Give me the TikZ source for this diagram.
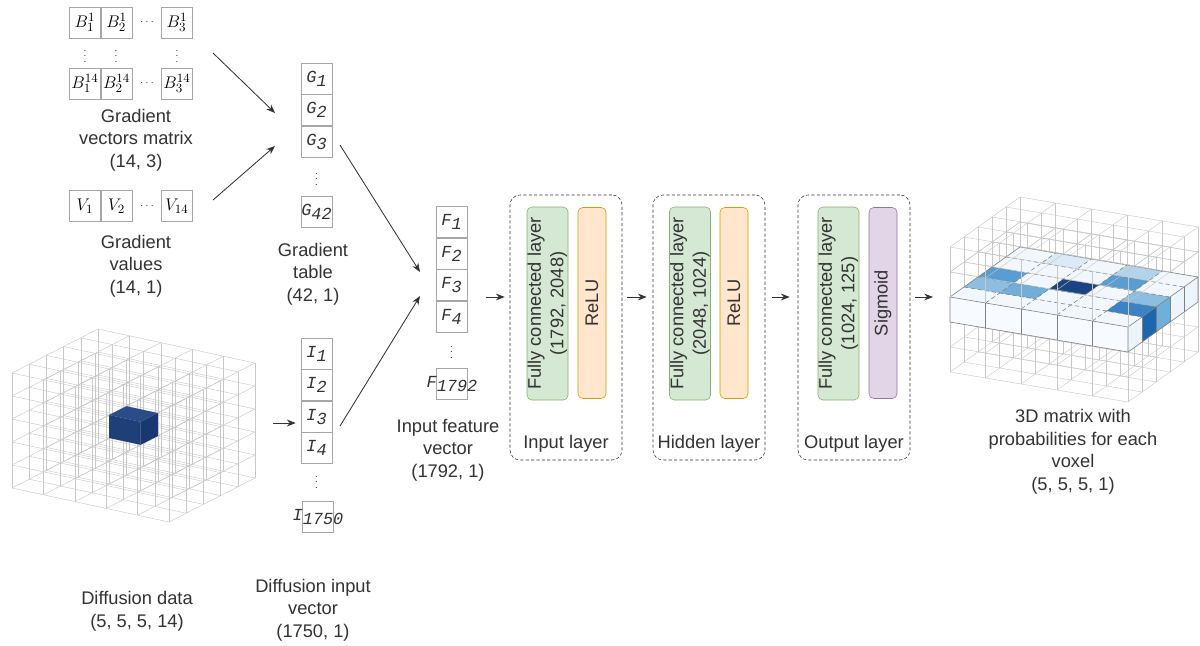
\documentclass[tikz,border=0pt]{standalone}
\usepackage{fontspec}
\setmainfont{Liberation Sans}
\setmonofont{Liberation Mono}
\usepackage{tikz}
\usetikzlibrary{arrows.meta,positioning,calc}
\definecolor{ink}{HTML}{333333}
\definecolor{cellgrey}{HTML}{A6A6A6}
\definecolor{fcfill}{HTML}{D5E8D4}
\definecolor{fcline}{HTML}{82B366}
\definecolor{relufill}{HTML}{FFE6CC}
\definecolor{reluline}{HTML}{D79B00}
\definecolor{sigfill}{HTML}{E1D5E7}
\definecolor{sigline}{HTML}{9673A6}
\definecolor{latgrey}{HTML}{C8C8C8}
\definecolor{edgegrey}{HTML}{7F7F7F}
\definecolor{navytop}{HTML}{2A4D8A}
\definecolor{navyfront}{HTML}{1F3F78}
\definecolor{navyside}{HTML}{1A3870}
\definecolor{slabtop}{HTML}{F2F7FD}
\definecolor{slabfront}{HTML}{F7FAFE}
\definecolor{slabside}{HTML}{EEF4FB}
\definecolor{blueA}{HTML}{DCE9F6}
\definecolor{blueB}{HTML}{B3D3EB}
\definecolor{blueC}{HTML}{8BBEE0}
\definecolor{blueD}{HTML}{6FAFD9}
\definecolor{blueE}{HTML}{5A9DD2}
\definecolor{blueF}{HTML}{3D83C4}
\definecolor{blueG}{HTML}{1C66AE}
\definecolor{blueH}{HTML}{1B4482}
\newcommand{\cellsym}[2]{{\ttfamily\itshape #1\raisebox{-.45ex}{#2}}}

\begin{document}
\begin{tikzpicture}[x=0.25mm,y=-0.25mm,
  font=\fontsize{13}{16}\selectfont,
  cell/.style={draw=cellgrey,minimum width=7.75mm,minimum height=7.75mm,inner sep=0pt,
               text=ink,font=\fontsize{12}{14}\selectfont},
  mcell/.style={cell,text=black,font=\fontsize{13}{15}\selectfont},
  dots/.style={inner sep=0pt,text=ink,font=\fontsize{7}{8}\selectfont},
  caption/.style={align=center,text=ink,inner sep=0pt},
  layerbox/.style={draw=ink,dash pattern=on 2.2pt off 1.6pt,rounded corners=2.5mm,
                   minimum width=28mm,minimum height=66.25mm},
  fcbox/.style={rotate=90,draw=fcline,fill=fcfill,rounded corners=1.2mm,minimum width=48.25mm,
                minimum height=10.25mm,inner sep=0pt,align=center,text=ink},
  actbox/.style={rotate=90,rounded corners=1.2mm,minimum width=47.75mm,minimum height=7mm,
                 inner sep=0pt,text=ink},
  arrow/.style={-{Stealth[length=2.2mm,width=1.7mm]},draw=ink,line width=0.6pt},
  gridline/.style={draw=latgrey,line width=0.3pt},
  voxedge/.style={draw=edgegrey,line width=0.4pt}
]
\useasboundingbox[fill=white] (0,0) rectangle (1200,645);

% gradient vectors matrix
\node[mcell] (b1a) at (85,22.5) {$B_1^1$};
\node[mcell,right=0pt of b1a] (b1b) {$B_2^1$};
\node[dots] (b1d) at (147,22.5) {$\cdots$};
\node[mcell] (b1c) at (177,22.5) {$B_3^1$};
\node[dots] (bva) at (85,52) {$\vdots$};
\node[dots] (bvb) at (116,52) {$\vdots$};
\node[dots] (bvc) at (177,52) {$\vdots$};
\node[mcell] (b14a) at (85,83.5) {$B_1^{14}$};
\node[mcell,right=0pt of b14a] (b14b) {$B_2^{14}$};
\node[dots] (b14d) at (147,83.5) {$\cdots$};
\node[mcell] (b14c) at (177,83.5) {$B_3^{14}$};
\node[caption] (bcap) at (136,140) {Gradient\\vectors matrix\\(14, 3)};

% gradient values
\node[mcell] (v1) at (85,206) {$V_1$};
\node[mcell,right=0pt of v1] (v2) {$V_2$};
\node[dots] (vd) at (147,206) {$\cdots$};
\node[mcell] (v14) at (177,206) {$V_{14}$};
\node[caption] (vcap) at (136,266) {Gradient\\values\\(14, 1)};

% gradient table
\node[cell] (g1) at (316.5,78.5) {\cellsym{G}{1}};
\node[cell,below=0pt of g1] (g2) {\cellsym{G}{2}};
\node[cell,below=0pt of g2] (g3) {\cellsym{G}{3}};
\node[dots] (gd) at (316.5,175) {$\vdots$};
\node[cell] (g42) at (316.5,212) {\cellsym{G}{42}};
\node[caption] (gcap) at (313,274) {Gradient\\table\\(42, 1)};

% diffusion input vector
\node[cell] (i1) at (316.5,353.5) {\cellsym{I}{1}};
\node[cell,below=0pt of i1] (i2) {\cellsym{I}{2}};
\node[cell,below=0pt of i2] (i3) {\cellsym{I}{3}};
\node[cell,below=0pt of i3] (i4) {\cellsym{I}{4}};
\node[dots] (id) at (316.5,478) {$\vdots$};
\node[cell] (i1750) at (318,517) {\makebox[0pt]{\cellsym{I}{1750}}};
\node[caption] (icap) at (313,610) {Diffusion input\\vector\\(1750, 1)};

% input feature vector
\node[cell] (f1) at (451.5,222) {\cellsym{F}{1}};
\node[cell,below=0pt of f1] (f2) {\cellsym{F}{2}};
\node[cell,below=0pt of f2] (f3) {\cellsym{F}{3}};
\node[cell,below=0pt of f3] (f4) {\cellsym{F}{4}};
\node[dots] (fd) at (451.5,348) {$\vdots$};
\node[cell] (f1792) at (452,384) {\makebox[0pt]{\cellsym{F}{1792}}};
\node[caption] (fcap) at (448,450) {Input feature\\vector\\(1792, 1)};

% network layers
\node[layerbox] (inbox) at (566,327.5) {};
\node[fcbox] (fc1) at (547.5,303.5) {Fully connected layer\\(1792, 2048)};
\node[actbox,draw=reluline,fill=relufill] (relu1) at (592,303) {ReLU};
\node[caption,above=2mm of inbox.south] (inlbl) {Input layer};

\node[layerbox] (hidbox) at (709,327.5) {};
\node[fcbox] (fc2) at (690,303.5) {Fully connected layer\\(2048, 1024)};
\node[actbox,draw=reluline,fill=relufill] (relu2) at (734,303) {ReLU};
\node[caption,above=2mm of hidbox.south] (hidlbl) {Hidden layer};

\node[layerbox] (outbox) at (854,327.5) {};
\node[fcbox] (fc3) at (838.5,303.5) {Fully connected layer\\(1024, 125)};
\node[actbox,draw=sigline,fill=sigfill] (sig) at (883,303) {Sigmoid};
\node[caption,above=2mm of outbox.south] (outlbl) {Output layer};

% diffusion data cube
\begin{scope}[shift={(12,488)},x={(7.85mm,-1.7mm)},y={(4.3mm,2.2mm)},z={(0mm,5.75mm)}]
  \foreach \a in {0,...,5}
    \foreach \b in {0,...,5} {
      \draw[gridline] (0,\a,\b) -- (5,\a,\b);
      \draw[gridline] (\a,0,\b) -- (\a,5,\b);
      \draw[gridline] (\a,\b,0) -- (\a,\b,5);
    }
  \fill[navyfront] (2,2,2) -- (3,2,2) -- (3,2,3) -- (2,2,3) -- cycle;
  \fill[navyside] (3,2,2) -- (3,3,2) -- (3,3,3) -- (3,2,3) -- cycle;
  \fill[navytop] (2,2,3) -- (3,2,3) -- (3,3,3) -- (2,3,3) -- cycle;
\end{scope}
\node[caption] (dcap) at (137,611.5) {Diffusion data\\(5, 5, 5, 14)};

% output probability cube
\begin{scope}[shift={(950,372)},x={(8.9mm,-1.5mm)},y={(3.5mm,2.5mm)},z={(0mm,6.25mm)}]
  \foreach \a in {0,...,5}
    \foreach \b in {0,...,5} {
      \draw[gridline] (0,\a,\b) -- (5,\a,\b);
      \draw[gridline] (\a,0,\b) -- (\a,5,\b);
      \draw[gridline] (\a,\b,0) -- (\a,\b,5);
    }
  \fill[slabfront] (0,0,2) -- (5,0,2) -- (5,0,3) -- (0,0,3) -- cycle;
  \fill[slabside] (5,0,2) -- (5,5,2) -- (5,5,3) -- (5,0,3) -- cycle;
  \fill[slabtop] (0,0,3) -- (5,0,3) -- (5,5,3) -- (0,5,3) -- cycle;
  \foreach \i/\j/\c in {2/2/blueH,0/2/blueE,0/1/blueC,1/1/blueD,1/4/blueA,
                        3/4/blueB,3/3/blueE,4/2/blueC,4/1/blueF}
    \fill[\c] (\i,\j,3) -- (\i+1,\j,3) -- (\i+1,\j+1,3) -- (\i,\j+1,3) -- cycle;
  \foreach \j/\c in {1/blueG,2/blueD}
    \fill[\c] (5,\j,2) -- (5,\j+1,2) -- (5,\j+1,3) -- (5,\j,3) -- cycle;
  \foreach \t in {1,...,4} {
    \draw[voxedge,densely dashed] (\t,0,3) -- (\t,5,3);
    \draw[voxedge,densely dashed] (0,\t,3) -- (5,\t,3);
    \draw[voxedge] (\t,0,2) -- (\t,0,3);
    \draw[voxedge] (5,\t,2) -- (5,\t,3);
  }
  \draw[voxedge] (0,0,2) -- (5,0,2) -- (5,5,2) -- (5,5,3) -- (0,5,3) -- (0,0,3) -- cycle;
  \draw[voxedge] (0,0,3) -- (5,0,3) -- (5,5,3) (5,0,3) -- (5,0,2);
  \foreach \a in {0,...,5} {
    \draw[gridline] (\a,0,3) -- (\a,0,5);
    \draw[gridline] (0,\a,4) -- (5,\a,4);
    \draw[gridline] (\a,0,4) -- (\a,5,4);
  }
\end{scope}
\node[caption] (ocap) at (1073,452) {3D matrix with\\probabilities for each\\voxel\\(5, 5, 5, 1)};

% connectors
\coordinate (bout) at (213,53);
\coordinate (vout) at (213,200);
\coordinate (gin1) at (275,113);
\coordinate (gin2) at (275,146);
\coordinate (gout) at (340,145);
\coordinate (iout) at (340,426);
\coordinate (fin1) at (420,272);
\coordinate (fin2) at (420,296);
\coordinate (diffout) at (273,423);
\coordinate (fout) at (486,297);
\coordinate (voxin) at (933,297);

\draw[arrow] (bout) -- (gin1);
\draw[arrow] (vout) -- (gin2);
\draw[arrow] (gout) -- (fin1);
\draw[arrow] (iout) -- (fin2);
\draw[arrow,shorten >=1.25mm] (diffout) -- (diffout -| i3.west);
\draw[arrow,shorten >=1.25mm] (fout) -- (fout -| inbox.west);
\draw[arrow,shorten <=1.25mm,shorten >=1.5mm] (fout -| inbox.east) -- (fout -| hidbox.west);
\draw[arrow,shorten <=1.75mm,shorten >=2mm] (fout -| hidbox.east) -- (fout -| outbox.west);
\draw[arrow,shorten <=1.25mm] (fout -| outbox.east) -- (voxin);
\end{tikzpicture}
\end{document}
